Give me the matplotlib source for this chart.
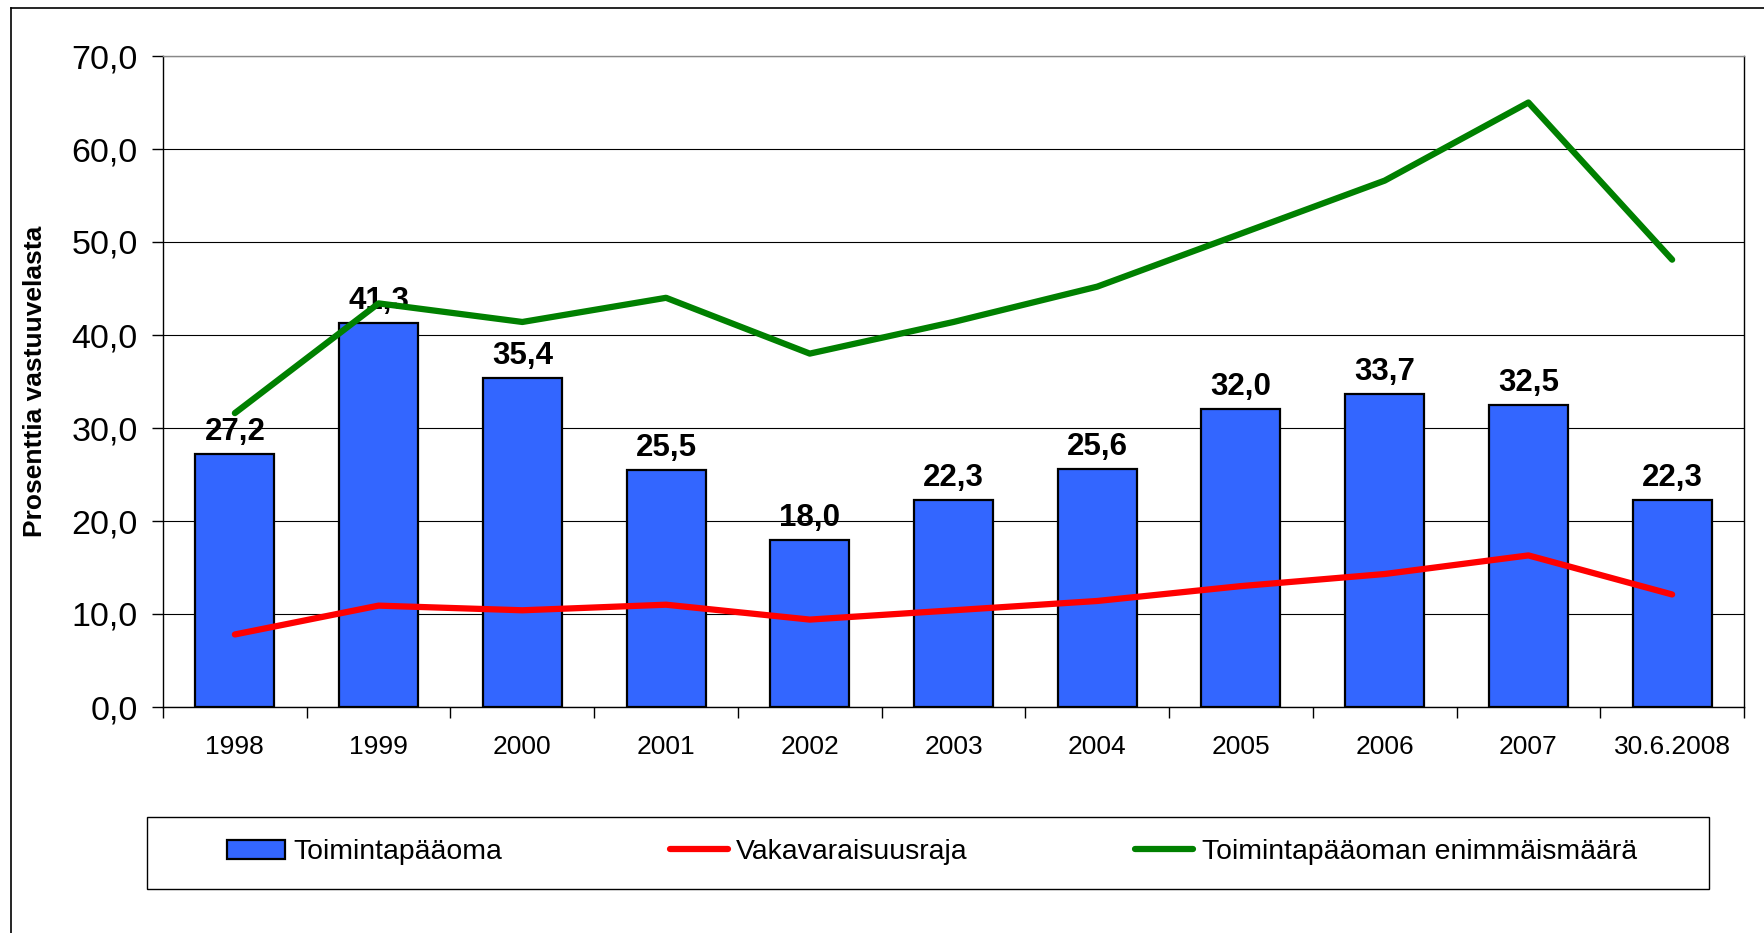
import matplotlib
matplotlib.use("Agg")
import matplotlib.pyplot as plt
from matplotlib.lines import Line2D
from matplotlib.patches import Patch
from matplotlib.ticker import FuncFormatter, FixedLocator

# ─── Data ─────────────────────────────────────────────────────────
categories = ["1998", "1999", "2000", "2001", "2002", "2003", "2004",
              "2005", "2006", "2007", "30.6.2008"]
toimintapaaoma = [27.2, 41.3, 35.4, 25.5, 18.0, 22.3, 25.6, 32.0, 33.7, 32.5, 22.3]
vakavaraisuusraja = [7.8, 10.9, 10.4, 11.0, 9.4, 10.4, 11.4, 13.0, 14.3, 16.3, 12.1]
enimmaismaara = [31.6, 43.4, 41.4, 44.0, 38.0, 41.4, 45.2, 50.9, 56.6, 65.0, 48.1]

BLUE = "#3366FF"
RED = "#FF0000"
GREEN = "#008000"
FONT = ["Liberation Sans", "DejaVu Sans"]

plt.rcParams["font.family"] = FONT

fig = plt.figure(figsize=(17.65, 9.33), dpi=100)
ax = fig.add_axes([163 / 1765, 1 - 707 / 933, (1744 - 163) / 1765, (707 - 56) / 933])

x = list(range(len(categories)))
ax.bar(x, toimintapaaoma, width=0.55, color=BLUE, edgecolor="black",
       linewidth=1.6, zorder=2)

# Value labels (below the lines, as in the source)
for xi, v in zip(x, toimintapaaoma):
    ax.annotate(f"{v:.1f}".replace(".", ","), (xi, v), xytext=(0, 5),
                textcoords="offset points", ha="center", va="bottom",
                fontsize=22.5, fontweight="bold", zorder=3)

ax.plot(x, vakavaraisuusraja, color=RED, linewidth=4.5,
        solid_capstyle="round", solid_joinstyle="round", zorder=4)
ax.plot(x, enimmaismaara, color=GREEN, linewidth=4.5,
        solid_capstyle="round", solid_joinstyle="round", zorder=4)

ax.set_xlim(-0.5, len(categories) - 0.5)
ax.set_ylim(0, 70)
ax.set_yticks(range(0, 71, 10))
ax.yaxis.set_major_formatter(FuncFormatter(lambda v, _p: f"{v:.1f}".replace(".", ",")))
ax.grid(axis="y", color="black", linewidth=0.8, zorder=0)
ax.set_axisbelow(True)

ax.set_xticks(x)
ax.set_xticklabels(categories, fontsize=19)
ax.tick_params(axis="x", which="major", length=0, pad=20)
ax.xaxis.set_minor_locator(FixedLocator([i - 0.5 for i in range(len(categories) + 1)]))
ax.tick_params(axis="x", which="minor", length=8, width=1, direction="out")
ax.tick_params(axis="y", labelsize=24.5, length=8, width=1, pad=10)

for side in ["top", "right", "left", "bottom"]:
    ax.spines[side].set_visible(True)
    ax.spines[side].set_linewidth(1.0)
ax.spines["top"].set_color("#888888")

ax.set_ylabel("Prosenttia vastuuvelasta", fontsize=19, fontweight="bold", labelpad=18)

# Legend box
fig.patches.append(plt.Rectangle((147 / 1765, 1 - 889 / 933), (1709 - 147) / 1765,
                                 (889 - 817) / 933, transform=fig.transFigure,
                                 facecolor="none", edgecolor="black", linewidth=1.0))
handles = [
    Patch(facecolor=BLUE, edgecolor="black", linewidth=1.6),
    Line2D([], [], color=RED, linewidth=4.5, solid_capstyle="round"),
    Line2D([], [], color=GREEN, linewidth=4.5, solid_capstyle="round"),
]
labels = ["Toimintapääoma", "Vakavaraisuusraja", "Toimintapääoman enimmäismäärä"]
fig.legend(handles, labels, loc="center", bbox_to_anchor=(0.528, 1 - 852 / 933),
           ncol=3, frameon=False, fontsize=20.4, handlelength=2.05,
           handleheight=0.65, handletextpad=0.3, columnspacing=5.9)

# Outer chart frame (top and left edges visible)
fig.add_artist(Line2D([11 / 1765, 1.0], [1 - 8 / 933, 1 - 8 / 933],
                      transform=fig.transFigure, color="black", linewidth=1.2))
fig.add_artist(Line2D([11 / 1765, 11 / 1765], [0.0, 1 - 8 / 933],
                      transform=fig.transFigure, color="black", linewidth=1.2))

fig.savefig("out.png", dpi=100)
plt.close(fig)
